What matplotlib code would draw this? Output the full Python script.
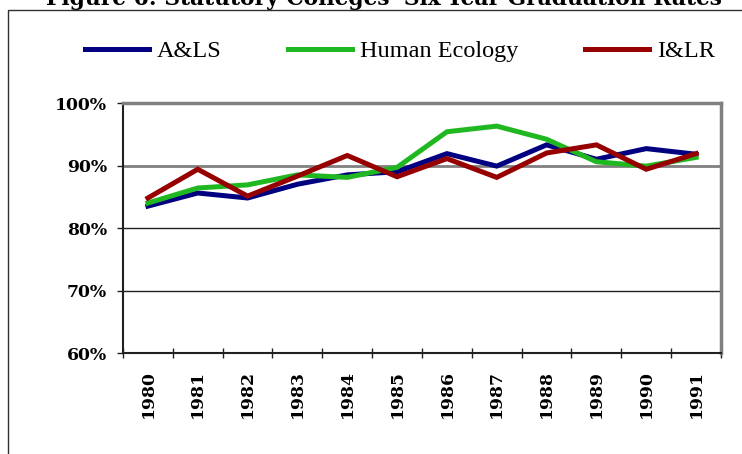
#!/usr/bin/env python
import matplotlib
matplotlib.use('Agg')
import matplotlib.pyplot as plt
from matplotlib.patches import Rectangle
from matplotlib.ticker import FixedLocator, FuncFormatter

years = ['1980', '1981', '1982', '1983', '1984', '1985',
         '1986', '1987', '1988', '1989', '1990', '1991']
als = [83.5, 85.6, 84.8, 87.0, 88.5, 89.0, 91.9, 89.9, 93.3, 91.0, 92.7, 91.8]
human_ecology = [84.0, 86.4, 86.9, 88.5, 88.1, 89.7, 95.4, 96.3, 94.2, 90.6, 89.9, 91.3]
ilr = [84.8, 89.4, 85.1, 88.3, 91.6, 88.2, 91.1, 88.1, 92.0, 93.3, 89.4, 91.9]
y_ticks = [60, 70, 80, 90, 100]

SERIF = 'DejaVu Serif'
LEGEND_FONT = 'Liberation Serif'


def rates_plot():
    fig = plt.figure(figsize=(7.42, 4.54), dpi=100)
    ax = fig.add_axes([123/742, 1 - 353/454, 598/742, 250/454])

    x = list(range(len(years)))
    series = [('A&LS', als, '#000080'),
              ('Human Ecology', human_ecology, '#20b820'),
              ('I&LR', ilr, '#960000')]
    for name, vals, color in series:
        ax.plot(x, [v / 100 for v in vals], color=color, lw=3.6,
                label=name, solid_joinstyle='miter', zorder=3)

    ax.set_xlim(-0.5, len(years) - 0.5)
    ax.set_ylim(0.6, 1.0)

    # gridlines (Excel style: upper ones grey, lower ones black)
    ax.axhline(0.9, color='#808080', lw=2.0, zorder=1)
    ax.axhline(0.8, color='#202020', lw=1.0, zorder=1)
    ax.axhline(0.7, color='#202020', lw=1.0, zorder=1)

    for side in ['left', 'bottom']:
        ax.spines[side].set_color('#202020')
        ax.spines[side].set_linewidth(1.5)
    for side in ['top', 'right']:
        ax.spines[side].set_color('#808080')
        ax.spines[side].set_linewidth(2.5)

    ax.yaxis.set_major_locator(FixedLocator([t / 100 for t in y_ticks]))
    ax.yaxis.set_major_formatter(FuncFormatter(lambda v, p: '%d%%' % round(v * 100)))
    ax.tick_params(axis='y', direction='out', length=4.5, width=1, pad=7,
                   labelsize=12.4, color='#202020')

    # category boundaries as major ticks, labels on minor ticks
    ax.xaxis.set_major_locator(FixedLocator([i - 0.5 for i in range(len(years) + 1)]))
    ax.xaxis.set_major_formatter(FuncFormatter(lambda v, p: ''))
    ax.xaxis.set_minor_locator(FixedLocator(x))
    ax.set_xticks(x, years, minor=True)
    ax.tick_params(axis='x', which='major', direction='inout', length=7, width=1,
                   color='#202020')
    ax.tick_params(axis='x', which='minor', length=0, pad=12, labelsize=12.4,
                   labelrotation=90)
    for lab in ax.get_xticklabels(minor=True) + ax.get_yticklabels():
        lab.set_fontfamily(SERIF)
        lab.set_fontweight('bold')

    fig.legend(loc='center', bbox_to_anchor=(400/742, 1 - 51/454), ncol=3,
               frameon=False, prop={'family': LEGEND_FONT, 'size': 17.5},
               handlelength=2.63, handletextpad=0.33, columnspacing=2.75)

    fig.text(384/742, 1 - 5/454,
             "Figure 6: Statutory Colleges' Six-Year Graduation Rates",
             ha='center', va='baseline', fontsize=15.7, fontweight='bold',
             family=SERIF)

    fig.add_artist(Rectangle((8/742, -0.5), 2, 1.5 - 10/454, fill=False,
                             edgecolor='#303030', lw=1.0,
                             transform=fig.transFigure))
    return fig


def main():
    fig = rates_plot()
    fig.savefig('out.png', dpi=100)


if __name__ == "__main__":
    main()
